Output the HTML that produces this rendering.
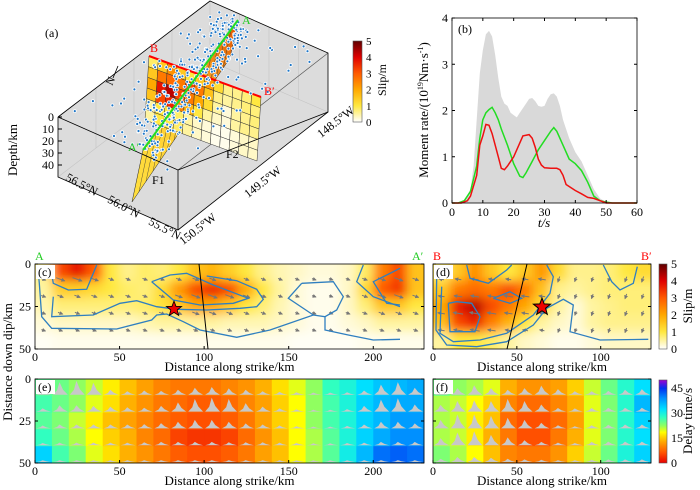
<!DOCTYPE html>
<html><head><meta charset="utf-8"><style>
html,body{margin:0;padding:0;background:#fff;}
svg{display:block;font-family:"Liberation Serif",serif;}
</style></head><body>
<svg id="fig" width="700" height="490" viewBox="0 0 700 490" xmlns="http://www.w3.org/2000/svg">
<defs>
<filter id="blur" x="-20%" y="-20%" width="140%" height="140%"><feGaussianBlur stdDeviation="5"/></filter>
<clipPath id="clipc"><rect x="35" y="264" width="389" height="85"/></clipPath>
<clipPath id="clipd"><rect x="433" y="264" width="218" height="85"/></clipPath>
<marker id="ah" viewBox="0 0 6 6" refX="5" refY="3" markerWidth="4" markerHeight="4" orient="auto"><path d="M0,0 L6,3 L0,6 z" fill="#777"/></marker>
<linearGradient id="cbslip" x1="0" y1="1" x2="0" y2="0">
<stop offset="0" stop-color="#ffffff"/><stop offset="0.2" stop-color="#ffe840"/><stop offset="0.4" stop-color="#ffa800"/><stop offset="0.6" stop-color="#ff5a00"/><stop offset="0.8" stop-color="#e00000"/><stop offset="1" stop-color="#600000"/></linearGradient>
<linearGradient id="cbdelay" x1="0" y1="1" x2="0" y2="0">
<stop offset="0" stop-color="#e80000"/><stop offset="0.12" stop-color="#ff5000"/><stop offset="0.245" stop-color="#ffa000"/><stop offset="0.31" stop-color="#ffd000"/><stop offset="0.37" stop-color="#ffff00"/><stop offset="0.45" stop-color="#90ff60"/><stop offset="0.55" stop-color="#30ffc0"/><stop offset="0.65" stop-color="#00e0ff"/><stop offset="0.78" stop-color="#0090ff"/><stop offset="0.9" stop-color="#0030f0"/><stop offset="1" stop-color="#a000d0"/></linearGradient>
<linearGradient id="f1g" x1="0" y1="1" x2="1" y2="0"><stop offset="0" stop-color="#ffe040"/><stop offset="0.5" stop-color="#ffcc30"/><stop offset="1" stop-color="#e05000"/></linearGradient>
</defs>
<g id="pa"></g>
<g id="pb"></g>
<g id="pc"></g>
<g id="pd"></g>
<g id="pe"></g>
<g id="pf"></g>
</svg>
<script>
var stfGreyT = [0,2,4,6,7,8,9,10,11,12,13,14,15,16,17,18,19,20,21,22,24,25,26,27,28,29,30,31,32,33,34,35,36,38,40,42,44,46,48,50,52,60];
var stfGreyV = [0,0,0.05,0.3,0.8,1.8,2.8,3.3,3.65,3.72,3.6,3.2,2.7,2.3,2.15,2.1,1.95,1.9,1.85,1.95,2.15,2.25,2.27,2.2,2.1,2.08,2.1,2.25,2.35,2.37,2.3,2.1,1.8,1.4,1.1,0.9,0.6,0.3,0.1,0.02,0,0];
var stfGreenT = [0,2,4,6,8,9,10,11,12,13,14,15,16,18,20,22,23,24,26,28,30,32,33,34,36,38,40,42,44,46,48,50,52,60];
var stfGreenV = [0,0,0.05,0.25,0.8,1.4,1.8,1.95,2.02,2.07,1.95,1.8,1.6,1.25,0.85,0.58,0.55,0.65,0.9,1.15,1.35,1.55,1.63,1.55,1.25,0.95,0.85,0.7,0.45,0.15,0.05,0.02,0,0];
var stfRedT = [0,3,5,6,8,9,10,11,12,13,14,15,16,17,18,20,22,23,25,26,27,28,29,30,32,34,35,36,37,40,42,44,46,48,50,60];
var stfRedV = [0,0,0.05,0.15,0.6,1.25,1.45,1.7,1.68,1.5,1.25,1.0,0.75,0.72,0.8,1.0,1.3,1.45,1.48,1.4,1.2,0.95,0.82,0.76,0.75,0.75,0.72,0.6,0.4,0.27,0.2,0.12,0.1,0.05,0,0];
var bXTicks = [0,10,20,30,40,50,60];
var bYTicks = [0,1,2,3,4];
var slipC = [
[0.6,3.2,3.8,3,1,0.6,0.8,0.7,1,1.6,1.8,1.4,1,0.6,0.4,0.3,0.2,0.2,0.3,0.8,2.5,3.2,1.6],
[0.5,1.4,1.4,1.2,1,0.8,0.7,1.2,2.2,3.2,3.6,3.2,2,1,0.5,0.2,0.1,0.1,0.3,1.2,3,3.4,1.6],
[0.4,0.7,0.7,0.7,0.7,0.7,0.8,1.1,1.5,2,2,1.5,1,0.7,0.4,0.2,0.1,0.1,0.3,0.7,1.5,1.5,1],
[0.2,0.3,0.3,0.3,0.3,0.3,0.4,0.5,0.5,0.5,0.5,0.4,0.4,0.4,0.3,0.2,0.1,0.1,0.2,0.3,0.5,0.5,0.5],
[0.05,0.1,0.1,0.1,0.1,0.1,0.1,0.1,0.1,0.1,0.1,0.1,0.1,0.1,0.1,0.05,0.05,0.05,0.05,0.1,0.1,0.1,0.1]];
var slipD = [
[0.8,1.5,2.3,1.5,1,1.5,2.2,1.2,0.6,0.6,0.7,1,1.2],
[1.5,2.6,2.8,2.6,3.2,2.6,1.6,0.6,0.5,0.6,0.7,0.7,0.7],
[2,3.8,4.3,3.2,2.6,2,1.2,0.5,0.2,0.5,0.6,0.7,0.7],
[1.6,3.2,3.6,2.5,1.8,1,0.5,0.3,0.2,0.5,0.6,0.6,0.6],
[0.5,1,1,0.8,0.5,0.3,0.2,0.1,0.1,0.2,0.3,0.3,0.3]];
var delayE = [
[25,24,22,20,17,14,12,10,9,9,9,10,11,13,16,19,22,27,29,32,34,35,36],
[26,24,22,19,16,13,11,9,8,7,7,8,10,12,15,18,22,26,29,33,35,36,36],
[25,23,20,17,14,12,10,8,7,6,6,7,9,12,15,18,22,26,29,33,35,37,37],
[27,24,21,18,15,13,10,8,5,4,4,5,8,11,14,18,21,25,29,33,36,38,38],
[33,26,23,19,16,13,11,9,7,6,6,7,9,12,14,18,21,25,30,35,40,41,40]];
var delayF = [
[24,22,21,19,13,11,11,12,15,20,24,28,32],
[21,20,18,15,10,8,8,10,13,19,23,28,35],
[21,20,17,14,8,6,6,8,12,19,23,28,33],
[21,20,17,13,9,6,6,9,13,19,23,28,32],
[23,21,18,14,10,9,9,11,15,20,24,29,33]];
var strikeTicksC = [0,50,100,150,200];
var strikeTicksD = [0,50,100];
var dipTicks = [0,25,50];
var slipCbTicks = [0,1,2,3,4,5];
var delayCbTicks = [0,15,30,45];

var NS='http://www.w3.org/2000/svg';
function mk(tag, attrs, parent, name, inter){
  var e=document.createElementNS(NS,tag);
  for(var k in attrs) e.setAttribute(k, attrs[k]);
  
  
  if(parent) parent.appendChild(e);
  return e;
}
function txt(parent, x, y, s, opts, name){
  opts=opts||{};
  var e=document.createElementNS(NS,'text');
  e.setAttribute('x',x); e.setAttribute('y',y);
  e.setAttribute('font-size', opts.size||12);
  e.setAttribute('fill', opts.fill||'#000');
  if(opts.anchor) e.setAttribute('text-anchor',opts.anchor);
  if(opts.rot) e.setAttribute('transform','rotate('+opts.rot+' '+x+' '+y+')');
  if(opts.style) e.setAttribute('font-style',opts.style);
  e.textContent=s;
  
  
  parent.appendChild(e);
  return e;
}
function hex(c){return [parseInt(c.substr(1,2),16),parseInt(c.substr(3,2),16),parseInt(c.substr(5,2),16)];}
function interp(stops, v){
  if(v<=stops[0][0]) return stops[0][1];
  for(var i=1;i<stops.length;i++){
    if(v<=stops[i][0]){
      var a=hex(stops[i-1][1]), b=hex(stops[i][1]), t=(v-stops[i-1][0])/(stops[i][0]-stops[i-1][0]);
      return 'rgb('+[0,1,2].map(function(j){return Math.round(a[j]+(b[j]-a[j])*t);}).join(',')+')';
    }
  }
  return stops[stops.length-1][1];
}
var slipStops=[[0,'#ffffff'],[1,'#ffe840'],[2,'#ffa800'],[3,'#ff5a00'],[4,'#e00000'],[5,'#600000']];
var delayStops=[[0,'#e80000'],[6,'#ff5000'],[12,'#ffa000'],[15,'#ffd000'],[18,'#ffff00'],[22,'#90ff60'],[27,'#30ffc0'],[32,'#00e0ff'],[38,'#0090ff'],[44,'#0030f0'],[49,'#a000d0']];
function slipCol(v){return interp(slipStops,v);}
function delayCol(v){return interp(delayStops,v);}
var seed=12345;function rnd(){seed=(seed*16807)%2147483647;return seed/2147483647;}
function star(cx,cy,R){var pts=[];for(var i=0;i<10;i++){var r=i%2?R*0.42:R,a=-Math.PI/2+i*Math.PI/5;pts.push((cx+r*Math.cos(a)).toFixed(1)+','+(cy+r*Math.sin(a)).toFixed(1));}return pts.join(' ');}
function inPoly(x,y,poly){var ins=false;for(var i=0,j=poly.length-1;i<poly.length;j=i++){var xi=poly[i][0],yi=poly[i][1],xj=poly[j][0],yj=poly[j][1];if(((yi>y)!==(yj>y))&&(x<(xj-xi)*(y-yi)/(yj-yi)+xi))ins=!ins;}return ins;}

// Panel (a)
(function(){
  var g=document.getElementById('pa');
  mk('polygon',{points:'58,117 210,1 328,53 328,112 178,230 58,177',fill:'#dcdcdc',stroke:'none'},g,'box-background');
  var gl=mk('g',{stroke:'#c4c4c4','stroke-width':0.6,fill:'none'},g,'box-grid');
  for(var i=1;i<4;i++){var t=i/4;
    mk('line',{x1:58+(210-58)*t,y1:117+(1-117)*t,x2:58+(210-58)*t,y2:177+(61-177)*t},gl,'grid-line');
    mk('line',{x1:210+(328-210)*t,y1:1+(53-1)*t,x2:210+(328-210)*t,y2:61+(112-61)*t},gl,'grid-line');
  }
  mk('line',{x1:210,y1:1,x2:210,y2:61},gl,'grid-line');
  mk('line',{x1:58,y1:177,x2:210,y2:61},gl,'grid-line');
  mk('line',{x1:210,y1:61,x2:328,y2:112},gl,'grid-line');
  mk('line',{x1:178,y1:170,x2:328,y2:53,stroke:'#555','stroke-width':0.7},g,'back-edge');
  mk('polygon',{points:'238,20 143,150 132,202 230,58',fill:'url(#f1g)',stroke:'#222','stroke-width':0.5},g,'fault-F1');
  var fl=mk('g',{stroke:'#333','stroke-width':0.4},g,'fault-F1-mesh');
  for(var i=1;i<14;i++){var t=i/14;mk('line',{x1:238+(143-238)*t,y1:20+(150-20)*t,x2:230+(132-230)*t,y2:58+(202-58)*t},fl,'mesh-line');}
  var TL=[149,56],TR=[261,97],BL=[145,120],BR=[257,161];
  function P(u,v){var tx=TL[0]+(TR[0]-TL[0])*u, ty=TL[1]+(TR[1]-TL[1])*u, bx=BL[0]+(BR[0]-BL[0])*u, by=BL[1]+(BR[1]-BL[1])*u;return [tx+(bx-tx)*v, ty+(by-ty)*v];}
  var f2=mk('g',{stroke:'#333','stroke-width':0.5},g,'fault-F2');
  for(var r=0;r<6;r++)for(var c=0;c<12;c++){
    var val=slipD[Math.min(r,4)][c];
    var p1=P(c/12,r/6),p2=P((c+1)/12,r/6),p3=P((c+1)/12,(r+1)/6),p4=P(c/12,(r+1)/6);
    mk('polygon',{points:[p1,p2,p3,p4].map(function(p){return p.join(',');}).join(' '),fill:slipCol(val)},f2,'fault-F2-patch');
  }
  mk('line',{x1:149,y1:56,x2:261,y2:97,stroke:'#f00','stroke-width':2},g,'profile-B-line');
  var ag=mk('g',{fill:'#1f77c8',stroke:'#fff','stroke-width':0.8},g,'aftershocks');
  var top=[[62,117],[210,5],[324,55],[178,166]];
  for(var i=0;i<480;i++){
    var t=rnd(), x, y;
    if(i<330){var d=(rnd()-0.5)*50*(rnd()+0.3); x=143+(238-143)*t+d*0.8; y=150+(20-150)*t+d*0.55+(rnd()-0.5)*16;}
    else {x=60+rnd()*265; y=5+rnd()*165; if(!inPoly(x,y,top)) continue;}
    mk('circle',{cx:x.toFixed(1),cy:y.toFixed(1),r:1.5},ag,'aftershock-dot');
  }
  mk('line',{x1:143,y1:150,x2:238,y2:20,stroke:'#22dd22','stroke-width':2},g,'profile-A-line');
  var eg=mk('g',{stroke:'#000','stroke-width':0.8,fill:'none'},g,'box-edges');
  mk('polyline',{points:'58,117 210,1 328,53 328,112 178,230 58,177 58,117'},eg,'box-outline');
  mk('polyline',{points:'58,117 178,170 178,230'},eg,'box-front-edge');
  mk('line',{x1:178,y1:170,x2:328,y2:112},eg,'box-front-edge');
  var dd=[0,10,20,30,40];
  dd.forEach(function(d,i){var y=117+i*12;mk('line',{x1:58,y1:y,x2:62,y2:y,stroke:'#000'},g,'depth-tick');txt(g,54,y+4,String(d),{anchor:'end',size:12},'depth-tick-label');});
  txt(g,17,150,'Depth/km',{anchor:'middle',rot:-90,size:13},'depth-axis-title');
  txt(g,80,188,'56.5°N',{rot:28,anchor:'middle',size:12},'lat-label');
  txt(g,122,210,'56.0°N',{rot:28,anchor:'middle',size:12},'lat-label');
  txt(g,163,232,'55.5°N',{rot:28,anchor:'middle',size:12},'lat-label');
  txt(g,200,232,'150.5°W',{rot:-38,anchor:'middle',size:12},'lon-label');
  txt(g,265,185,'149.5°W',{rot:-38,anchor:'middle',size:12},'lon-label');
  txt(g,338,125,'148.5°W',{rot:-38,anchor:'middle',size:12},'lon-label');
  txt(g,45,37,'(a)',{size:12},'panel-a-label');
  txt(g,242,24,'A',{fill:'#22cc22',size:12},'label-A');
  txt(g,128,151,'A′',{fill:'#22cc22',size:12},'label-A-prime');
  txt(g,150,52,'B',{fill:'#f00',size:12},'label-B');
  txt(g,264,95,'B′',{fill:'#f00',size:12},'label-B-prime');
  txt(g,152,184,'F1',{size:12},'label-F1');
  txt(g,226,158,'F2',{size:12},'label-F2');
  txt(g,112,86,'N',{rot:-65,size:11},'north-arrow-label');
  mk('line',{x1:113,y1:78,x2:118,y2:66,stroke:'#000','stroke-width':0.8},g,'north-arrow');
  mk('rect',{x:353,y:41,width:9,height:81,fill:'url(#cbslip)',stroke:'#555','stroke-width':0.6},g,'slip-colorbar-a');
  slipCbTicks.forEach(function(v){var y=122-v*16.2;txt(g,366,y+4,String(v),{size:11},'colorbar-a-tick');});
  txt(g,386,80,'Slip/m',{rot:-90,anchor:'middle',size:12},'colorbar-a-title');
})();

// Panel (b)
(function(){
  var g=document.getElementById('pb');
  var x0=452,x1=637,y0=203,y1=18;
  function X(t){return x0+(x1-x0)*t/60;} function Y(v){return y0+(y1-y0)*v/4;}
  var d='M'+X(stfGreyT[0])+','+Y(0);
  stfGreyT.forEach(function(t,i){d+=' L'+X(t).toFixed(1)+','+Y(stfGreyV[i]).toFixed(1);});
  d+=' L'+X(60)+','+Y(0)+' Z';
  mk('path',{d:d,fill:'#d9d9d9',stroke:'none'},g,'total-moment-rate-area');
  function line(T,V,col,name){mk('polyline',{points:T.map(function(t,i){return X(t).toFixed(1)+','+Y(V[i]).toFixed(1);}).join(' '),fill:'none',stroke:col,'stroke-width':1.5},g,name);}
  line(stfGreenT,stfGreenV,'#22dd22','F1-moment-rate-line');
  line(stfRedT,stfRedV,'#ee1111','F2-moment-rate-line');
  mk('rect',{x:x0,y:y1,width:x1-x0,height:y0-y1,fill:'none',stroke:'#000','stroke-width':0.8},g,'plot-frame-b');
  bXTicks.forEach(function(t){mk('line',{x1:X(t),y1:y0,x2:X(t),y2:y0-3,stroke:'#000'},g,'x-tick');mk('line',{x1:X(t),y1:y1,x2:X(t),y2:y1+3,stroke:'#000'},g,'x-tick');txt(g,X(t),y0+13,String(t),{anchor:'middle',size:12},'x-tick-label');});
  bYTicks.forEach(function(v){mk('line',{x1:x0,y1:Y(v),x2:x0+3,y2:Y(v),stroke:'#000'},g,'y-tick');mk('line',{x1:x1,y1:Y(v),x2:x1-3,y2:Y(v),stroke:'#000'},g,'y-tick');txt(g,x0-4,Y(v)+4,String(v),{anchor:'end',size:12},'y-tick-label');});
  var yt=txt(g,428,110,'',{anchor:'middle',rot:-90,size:13},'y-axis-title');
  yt.innerHTML='Moment rate/(10<tspan font-size="8" dy="-5">19</tspan><tspan dy="5">Nm·s</tspan><tspan font-size="8" dy="-5">-1</tspan><tspan dy="5">)</tspan>';
  txt(g,544,227,'t/s',{anchor:'middle',size:13,style:'italic'},'x-axis-title');
  txt(g,458,33,'(b)',{size:12},'panel-b-label');
})();

function slipPanel(gid, data, x0, kmMax, clipId, name){
  var g=document.getElementById(gid);
  var y0=264,y1=349, sx=(kmMax===230?389/230:218/130), sy=(y1-y0)/50;
  var hg=mk('g',{'clip-path':'url(#'+clipId+')'},g,name+'-heatmap');
  mk('rect',{x:x0,y:y0,width:kmMax*sx,height:85,fill:'#ffffff'},hg,'heatmap-bg');
  var bg=mk('g',{filter:'url(#blur)'},hg,'heatmap-cells');
  var nc=data[0].length;
  for(var r=0;r<5;r++)for(var c=0;c<nc;c++){
    var x=x0+c*10*sx, y=y0+r*10*sy, w=10*sx, h=10*sy;
    if(c===0){x-=12;w+=12;} if(c===nc-1){w+=12;} if(r===0){y-=12;h+=12;} if(r===4){h+=12;}
    mk('rect',{x:x,y:y,width:w+0.5,height:h+0.5,fill:slipCol(data[r][c])},bg,'slip-cell');
  }
  var ar=mk('g',{stroke:'#777','stroke-width':1,'marker-end':'url(#ah)'},hg,name+'-slip-vectors');
  for(var r=0;r<4;r++)for(var c=0;c<nc;c++){
    var cx=x0+(c+0.5)*10*sx, cy=y0+(r*10+9)*sy;
    var L=4+data[r][c]*1.6, ang=(gid==='pc'?0.35:(c<7?3.3:1.9));
    mk('line',{x1:(cx-L/2*Math.cos(ang)).toFixed(1),y1:(cy-L/2*Math.sin(ang)).toFixed(1),x2:(cx+L/2*Math.cos(ang)).toFixed(1),y2:(cy+L/2*Math.sin(ang)).toFixed(1)},ar,'slip-vector');
  }
  return {g:g,hg:hg,sx:sx,sy:sy};
}
function contours(g, list, ox, oy, name){
  var cg=mk('g',{fill:'none',stroke:'#2f7fc0','stroke-width':1.3},g,name);
  list.forEach(function(pts){mk('polyline',{points:pts.map(function(p){return (p[0]/3+ox).toFixed(1)+','+(p[1]/3+oy).toFixed(1);}).join(' ')},cg,'slip-contour');});
}
function frame(g,x0,w,y0,h,ticks,sx,name,label){
  mk('rect',{x:x0,y:y0,width:w,height:h,fill:'none',stroke:'#000','stroke-width':0.8},g,name+'-frame');
  ticks.forEach(function(k){var x=x0+k*sx;mk('line',{x1:x,y1:y0+h,x2:x,y2:y0+h-3,stroke:'#000'},g,'x-tick');txt(g,x,y0+h+12,String(k),{anchor:'middle',size:12},'x-tick-label');});
  dipTicks.forEach(function(k){var y=y0+k*h/50;mk('line',{x1:x0,y1:y,x2:x0+3,y2:y,stroke:'#000'},g,'y-tick');mk('line',{x1:x0+w,y1:y,x2:x0+w-3,y2:y,stroke:'#000'},g,'y-tick');if(x0<100)txt(g,x0-4,y+4,String(k),{anchor:'end',size:12},'y-tick-label');});
  txt(g,x0+w/2,y0+h+22,'Distance along strike/km',{anchor:'middle',size:13},name+'-x-axis-title');
  mk('rect',{x:x0+1,y:y0+1,width:19,height:14,fill:'#fff'},g,name+'-label-bg');
  txt(g,x0+3,y0+12,label,{size:12},name+'-panel-label');
}
(function(){
  var p=slipPanel('pc',slipC,35,230,'clipc','panel-c');
  contours(p.hg,[
    [[113,45],[118,100],[125,200],[155,235],[350,237],[455,210],[470,195],[500,192],[550,215],[600,240],[710,262],[810,240],[940,195],[975,200],[975,240],[1045,255],[1120,270],[1200,268]],
    [[160,140],[155,200],[280,195],[360,160],[410,152],[470,170],[530,178],[620,180],[720,175],[770,170],[790,148],[770,118],[710,92],[620,78]],
    [[150,45],[160,100],[205,120],[260,118],[290,45]],
    [[455,95],[510,75],[560,70],[640,105],[745,145],[700,160],[600,165],[520,150],[455,95]],
    [[905,100],[865,145],[940,195]],[[905,100],[1000,95],[1030,140],[1010,180],[975,200]],
    [[1090,45],[1070,95],[1120,140],[1200,170]],[[1200,55],[1120,95],[1160,160],[1200,165]]
  ],0,250,'panel-c-contours');
  mk('line',{x1:199,y1:264,x2:208,y2:349,stroke:'#000','stroke-width':1},p.g,'F2-intersection-line');
  mk('polygon',{points:star(174,309,8),fill:'#e00',stroke:'#000','stroke-width':0.8},p.g,'hypocenter-star');
  frame(p.g,35,389,264,85,strikeTicksC,p.sx,'panel-c','(c)');
  txt(p.g,35,260,'A',{fill:'#22cc22',size:12},'label-A');
  txt(p.g,412,260,'A′',{fill:'#22cc22',size:12},'label-A-prime');
})();
(function(){
  var p=slipPanel('pd',slipD,433,130,'clipd','panel-d');
  contours(p.hg,[
    [[110,75],[108,240],[140,285],[230,290],[320,275],[400,225],[440,175],[490,148],[520,165],[510,245],[600,270],[745,268]],
    [[125,110],[120,250],[160,275],[240,270],[320,250],[400,195],[450,130],[460,80],[440,45]],
    [[145,160],[150,245],[225,245],[240,200],[215,160],[170,155],[145,160]],
    [[280,145],[330,125],[365,145],[330,160],[280,145]],
    [[200,45],[210,85],[265,100],[320,60],[335,45]],
    [[610,45],[635,95],[660,120],[700,100],[712,50]]
  ],400,250,'panel-d-contours');
  mk('line',{x1:527,y1:264,x2:507,y2:349,stroke:'#000','stroke-width':1},p.g,'F1-intersection-line');
  mk('polygon',{points:star(542,307,9),fill:'#e00',stroke:'#000','stroke-width':1},p.g,'hypocenter-star');
  frame(p.g,433,218,264,85,strikeTicksD,p.sx,'panel-d','(d)');
  txt(p.g,433,260,'B',{fill:'#f00',size:12},'label-B');
  txt(p.g,641,260,'B′',{fill:'#f00',size:12},'label-B-prime');
  mk('rect',{x:659,y:264,width:8,height:85,fill:'url(#cbslip)',stroke:'#555','stroke-width':0.6},p.g,'slip-colorbar');
  slipCbTicks.forEach(function(v){txt(p.g,671,349-v*17+4,String(v),{size:12},'colorbar-tick-label');});
  txt(p.g,692,306,'Slip/m',{rot:-90,anchor:'middle',size:13},'colorbar-title');
})();
function delayPanel(gid,data,slip,x0,kmMax,name,label,ticks){
  var g=document.getElementById(gid);
  var y0=379,h=84,sx=(kmMax===230?389/230:218/130),sy=h/50,nc=data[0].length;
  var cg=mk('g',{},g,name+'-cells');
  for(var r=0;r<5;r++)for(var c=0;c<nc;c++){
    var x=x0+c*10*sx,y=y0+r*10*sy;
    mk('rect',{x:x.toFixed(1),y:y.toFixed(1),width:(10*sx+0.4).toFixed(1),height:(10*sy+0.4).toFixed(1),fill:delayCol(data[r][c])},cg,'delay-cell');
    var s=slip[r][c], hh=Math.min(14,s*3.5+1.5), w=10*sx, by=y+10*sy-1;
    var px=x+w*0.45;
    mk('path',{d:'M'+(x+1).toFixed(1)+','+by.toFixed(1)+' L'+(px-2.5).toFixed(1)+','+(by-hh*0.35).toFixed(1)+' L'+px.toFixed(1)+','+(by-hh).toFixed(1)+' L'+(px+3.5).toFixed(1)+','+(by-hh*0.4).toFixed(1)+' L'+(x+w-1).toFixed(1)+','+by.toFixed(1)+' Z',fill:'#c8c8c8',stroke:'none'},cg,'source-time-function');
  }
  frame(g,x0,kmMax*sx,y0,h,ticks,sx,name,label);
  return g;
}
delayPanel('pe',delayE,slipC,35,230,'panel-e','(e)',strikeTicksC);
(function(){
  var g=delayPanel('pf',delayF,slipD,433,130,'panel-f','(f)',strikeTicksD);
  mk('rect',{x:659,y:380,width:8,height:83,fill:'url(#cbdelay)',stroke:'#555','stroke-width':0.6},g,'delay-colorbar');
  delayCbTicks.forEach(function(v){txt(g,671,463-v*1.667+4,String(v),{size:12},'colorbar-tick-label');});
  txt(g,692,421,'Delay time/s',{rot:-90,anchor:'middle',size:13},'delay-colorbar-title');
})();
txt(document.getElementById('fig'),12,362,'Distance down dip/km',{rot:-90,anchor:'middle',size:13},'shared-y-axis-title');
</script>
</body></html>
